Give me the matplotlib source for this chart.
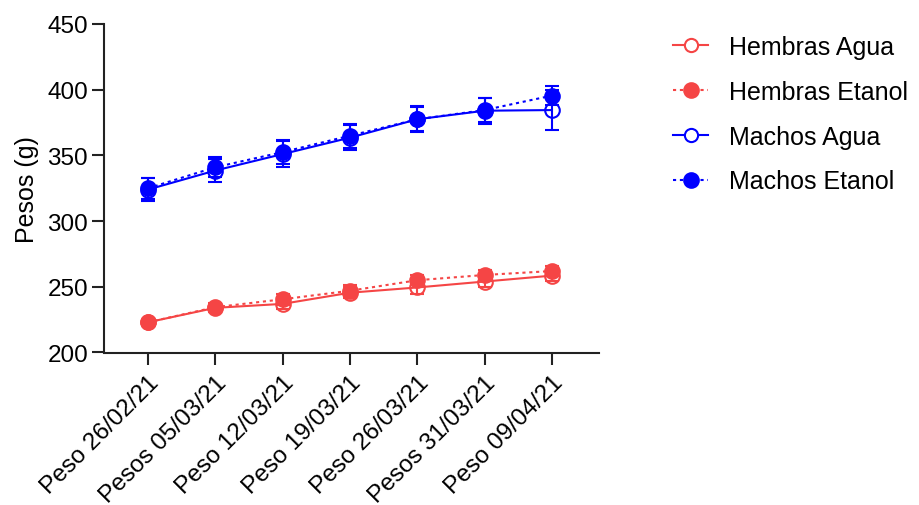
import matplotlib
matplotlib.use("Agg")
import matplotlib.pyplot as plt
from matplotlib.lines import Line2D

plt.rcParams['font.family'] = ['Liberation Sans', 'DejaVu Sans']

categories = ["Peso 26/02/21", "Pesos 05/03/21", "Peso 12/03/21", "Peso 19/03/21",
              "Peso 26/03/21", "Pesos 31/03/21", "Peso 09/04/21"]

hembras_agua = [223, 234, 237, 245.5, 249.5, 254, 258.5]
hembras_agua_err = [2, 3, 4, 4, 5, 4, 4]
hembras_etanol = [223, 234.5, 240.5, 247, 255, 259, 262]
hembras_etanol_err = [2, 3, 4, 4, 4, 4, 4]
machos_agua = [324, 338.5, 351, 363.5, 377.5, 384, 384.5]
machos_agua_err = [9, 9, 10, 9.5, 10, 10, 15]
machos_etanol = [325, 341, 352.5, 365, 377.5, 384.5, 395.5]
machos_etanol_err = [8, 7.5, 9, 9, 9, 9, 7]

yticks = [200, 250, 300, 350, 400, 450]

RED = '#F54545'
BLUE = '#0000FF'

fig = plt.figure(figsize=(9.19, 5.06), dpi=100)
ax = fig.add_axes([104/919, 1-353.5/506, (599-104)/919, (353.5-25)/506])

x = list(range(len(categories)))
ms = 10.5
common = dict(lw=1.5, capsize=5, capthick=1.5, elinewidth=1.5, markersize=ms, markeredgewidth=1.5)
DOT = (0, (1.5, 1.8))

series = [
    ("Hembras Agua", hembras_agua, hembras_agua_err, RED, False, '-'),
    ("Hembras Etanol", hembras_etanol, hembras_etanol_err, RED, True, DOT),
    ("Machos Agua", machos_agua, machos_agua_err, BLUE, False, '-'),
    ("Machos Etanol", machos_etanol, machos_etanol_err, BLUE, True, DOT),
]
handles = []
for label, y, e, c, filled, ls in series:
    mfc = c if filled else 'none'
    ax.errorbar(x, y, yerr=e, color=c, ecolor=c, marker='o', mfc=mfc,
                mec=c, linestyle=ls, **common)
    handles.append(Line2D([], [], color=c, marker='o', mfc=mfc if filled else 'white', mec=c,
                          linestyle=ls, lw=1.5, markersize=ms if filled else 9.5, markeredgewidth=1.5))

ax.set_xlim(-0.654, 6.70)
ax.set_ylim(200, 450)
ax.set_yticks(yticks)
ax.set_xticks(x)
ax.set_xticklabels(categories, rotation=45, ha='right', rotation_mode='anchor')
ax.tick_params(axis='both', direction='out', length=8.5, width=1.5, labelsize=17.5, color='#222222')
ax.tick_params(axis='x', pad=5)
ax.tick_params(axis='y', pad=3)
for s in ['top', 'right']:
    ax.spines[s].set_visible(False)
for s in ['left', 'bottom']:
    ax.spines[s].set_linewidth(1.5)
    ax.spines[s].set_color('#222222')
ax.set_ylabel("Pesos (g)", fontsize=18, labelpad=6)

leg = fig.legend(handles=handles, labels=[s[0] for s in series], loc='upper left',
                 bbox_to_anchor=(673/919, 1-36/506), frameon=False, fontsize=18,
                 handlelength=1.4, handletextpad=0.85, labelspacing=0.83,
                 borderaxespad=0, borderpad=0)

fig.savefig("out.png", dpi=100)
